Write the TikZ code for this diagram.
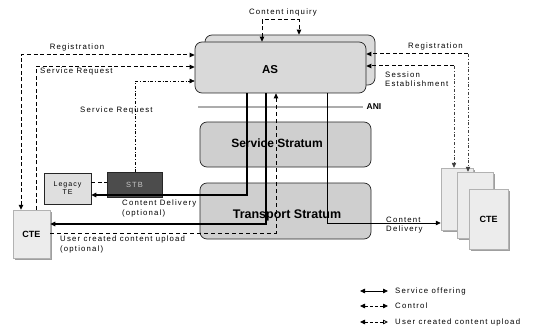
\documentclass[tikz,border=0pt]{standalone}
\usepackage{fontspec}
\setmainfont{Liberation Sans}
\newfontfamily\spaced{Liberation Sans}[LetterSpace=15]
\usetikzlibrary{arrows.meta,shadows}

\begin{document}
\begin{tikzpicture}[x=1pt,y=-1pt,
  >={Triangle[length=5pt,width=4.5pt]},
  lbl/.style={font=\spaced\fontsize{7.8}{9.5}\selectfont, inner sep=0pt},
  bigl/.style={font=\bfseries\fontsize{12}{14}\selectfont, inner sep=0pt},
  box/.style={draw=black!85, line width=0.7pt, rounded corners=7pt, fill=gray!38},
  ctrl/.style={line width=1pt, dash pattern=on 4pt off 2.5pt},
  ctrlthin/.style={line width=0.5pt, dash pattern=on 3pt off 2pt on 0.6pt off 2pt, draw=black!75},
  dashdot/.style={line width=0.5pt, dash pattern=on 3pt off 2pt on 0.6pt off 2pt},
  svc/.style={line width=1.8pt},
  thinln/.style={line width=0.8pt},
  upl/.style={line width=0.8pt, dash pattern=on 4pt off 3pt},
  ctepage/.style={draw=gray!60, fill=gray!15, line width=0.5pt,
    drop shadow={shadow xshift=1.8pt, shadow yshift=-1.8pt, fill=black!75}},
]
\useasboundingbox (0,0) rectangle (536,329);

% AS boxes
\node[box, fill=gray!28, minimum width=170pt, minimum height=50pt] (asb) at (290,60) {};
\node[box, fill=gray!30, minimum width=171pt, minimum height=51pt] (asf) at (280.5,67.5) {};
\node[font=\bfseries\fontsize{11.5}{13}\selectfont, inner sep=0pt] (aslbl) at (270,70) {AS};

% strata
\node[box, minimum width=171pt, minimum height=45pt] (ss) at (285.5,144.5) {};
\node[bigl] (sslbl) at (277,143) {Service Stratum};
\node[box, minimum width=171pt, minimum height=56pt] (ts) at (285.5,211) {};
\node[bigl, font=\bfseries\fontsize{12.5}{14}\selectfont] (tslbl) at (287,215) {Transport Stratum};

% ANI
\node[font=\bfseries\fontsize{8.5}{10}\selectfont, inner sep=0pt] (ani) at (374,107) {ANI};
\coordinate (ania) at (198,107);
\draw[line width=1.6pt, draw=gray!65] (ania) -- ([xshift=-3pt]ani.west);

% terminals
\node[draw=black!85, fill=gray!25, line width=0.6pt, minimum width=47pt, minimum height=31pt,
      align=center, font=\spaced\fontsize{7}{8}\selectfont, inner sep=0pt] (legacy) at (67.5,188.5) {Legacy\\TE};
\node[draw=black!85, fill=black!70, minimum width=55pt, minimum height=25pt,
      font=\spaced\fontsize{7.5}{9}\selectfont, text=gray!45, inner sep=0pt] (stb) at (134.5,185) {STB};
\node[ctepage, minimum width=37pt, minimum height=48pt,
      font=\bfseries\fontsize{9}{10}\selectfont] (cteL) at (31.5,234) {CTE};

\node[ctepage, minimum width=32pt, minimum height=62pt] (p1) at (457,199) {};
\node[ctepage, minimum width=36pt, minimum height=66pt] (p2) at (475,205) {};
\node[ctepage, minimum width=39pt, minimum height=60pt,
      font=\bfseries\fontsize{9}{10}\selectfont] (p3) at (488.5,219) {CTE};

% content inquiry
\node[lbl] (cilbl) at (283,12) {Content inquiry};
\coordinate (ci1) at (262,20);
\coordinate (ci2) at (299,20);
\draw[ctrl, <->] (ci1 |- asf.north) -- (ci1) -- (ci2) -- (ci2 |- asb.north);

% left control flows
\coordinate (rl) at (21,55);
\draw[ctrl, <->] (rl |- cteL.north) -- (rl) -- (rl -| asf.west);
\node[lbl] (rllbl) at (77,47) {Registration};

\coordinate (sl) at (36,67);
\draw[ctrl, ->] (sl |- cteL.north) -- (sl) -- (sl -| asf.west);
\node[lbl, anchor=west] (sllbl) at (40,71.5) {Service Request};

\coordinate (sm) at (135,81);
\draw[dashdot, ->] (sm |- stb.north) -- (sm) -- (sm -| asf.west);
\node[lbl, anchor=west] (smlbl) at (80,110) {Service Request};

% right control flows
\coordinate (rr) at (468,54);
\draw[ctrl, ->] (rr) -- (rr -| asf.east);
\draw[ctrlthin, ->] (rr) -- (rr |- p2.north);
\node[lbl, anchor=west] (rrlbl) at (408,46) {Registration};

\coordinate (se) at (454,66);
\draw[ctrl, ->] (se) -- (se -| asf.east);
\draw[ctrlthin, ->] (se) -- (se |- p1.north);
\node[lbl, anchor=west, align=left] (selbl) at (385,79) {Session\\Establishment};

% legacy - STB
\draw[ctrl] (legacy.east |- 0,182) -- (stb.west |- 0,182);

% service offering
\coordinate (so1) at (247,195);
\draw[svc, ->] (so1 |- asf.south) -- (so1) -- (so1 -| legacy.east);
\coordinate (so2) at (266,224);
\draw[svc, ->] (so2 |- asf.south) -- (so2) -- (so2 -| cteL.east);
\coordinate (so3) at (327,223);
\draw[thinln, ->] (so3 |- asf.south) -- (so3) -- (so3 -| p1.west);
\node[lbl, anchor=west, align=left] (cdlbl) at (386,225) {Content\\Delivery};
\node[lbl, anchor=west, align=left] (cdolbl) at (122,208.5) {Content Delivery\\(optional)};

% user upload
\coordinate (up) at (276,233);
\draw[upl, ->] (up -| cteL.east) -- (up) -- (up |- asf.south);
\node[lbl, anchor=west, align=left] (uplbl) at (60,244.5) {User created content upload\\(optional)};

% legend
\coordinate (l1a) at (360,291); \coordinate (l1b) at (388,291);
\draw[thinln, <->] (l1a) -- (l1b);
\node[lbl, anchor=west] (lg1) at (395,291) {Service offering};
\coordinate (l2a) at (360,306); \coordinate (l2b) at (388,306);
\draw[thinln, dash pattern=on 3pt off 2pt, <->] (l2a) -- (l2b);
\node[lbl, anchor=west] (lg2) at (395,306) {Control};
\coordinate (l3a) at (360,322); \coordinate (l3b) at (388,322);
\draw[thinln, dash pattern=on 3pt off 2pt, {Triangle[length=5pt,width=4.5pt]}-{Triangle[open,length=5pt,width=4.5pt]}] (l3a) -- (l3b);
\node[lbl, anchor=west] (lg3) at (395,322) {User created content upload};
\end{tikzpicture}
\end{document}
